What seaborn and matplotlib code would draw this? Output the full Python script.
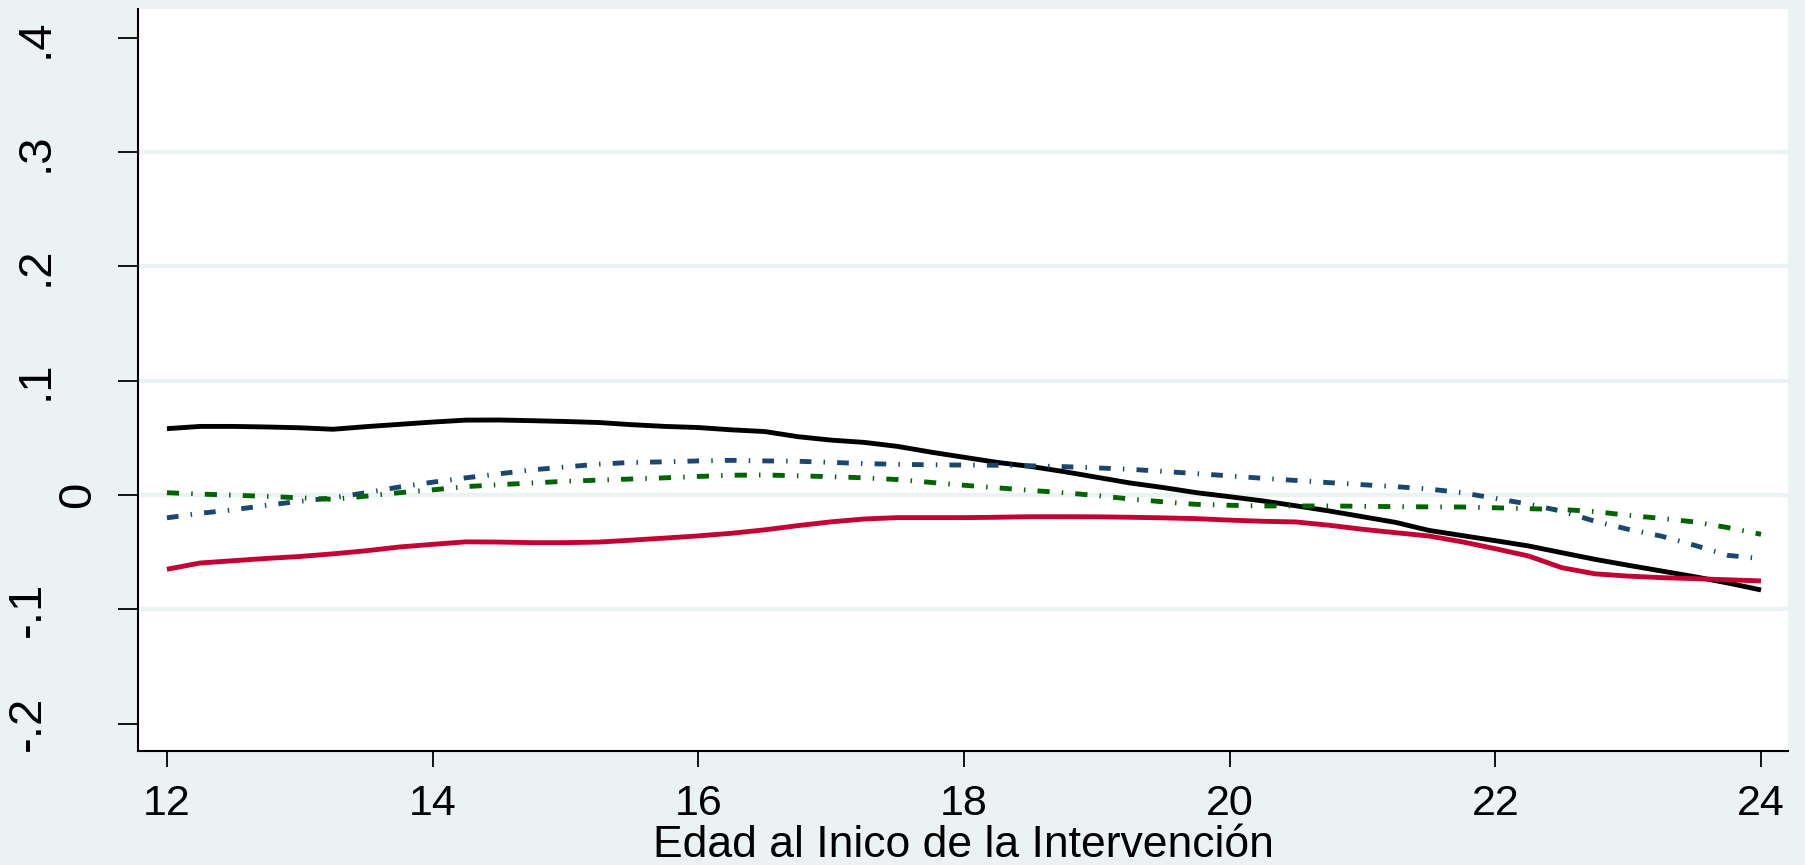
import numpy as np
import pandas as pd
import seaborn as sns
import matplotlib.pyplot as plt
import matplotlib.transforms as mtransforms

# edades (eje x)
edad = np.arange(12, 24.01, 0.25)

serie_negra = [0.058, 0.060, 0.060, 0.0595, 0.0588, 0.0575, 0.0598, 0.0618, 0.0638, 0.0655,
               0.0656, 0.0650, 0.0643, 0.0634, 0.0615, 0.0600, 0.0590, 0.0570, 0.0555, 0.0510,
               0.0480, 0.0460, 0.0425, 0.0375, 0.0330, 0.0285, 0.0250, 0.0205, 0.0155, 0.0105,
               0.0065, 0.0020, -0.0015, -0.0052, -0.0095, -0.0140, -0.0190, -0.0240, -0.0310, -0.0355,
               -0.0400, -0.0446, -0.0505, -0.0563, -0.0615, -0.0665, -0.0715, -0.0770, -0.0831]

serie_roja = [-0.065, -0.0595, -0.0575, -0.0555, -0.0538, -0.0515, -0.0488, -0.0455, -0.0432, -0.0410,
              -0.0412, -0.0417, -0.0417, -0.0412, -0.0395, -0.0377, -0.0358, -0.0335, -0.0305, -0.0268,
              -0.0235, -0.0210, -0.0198, -0.0198, -0.0198, -0.0195, -0.0190, -0.0190, -0.0191, -0.0195,
              -0.0200, -0.0207, -0.0220, -0.0230, -0.0236, -0.0265, -0.0300, -0.0330, -0.0359, -0.0410,
              -0.0470, -0.0534, -0.0636, -0.0690, -0.0710, -0.0723, -0.0732, -0.0742, -0.0752]

serie_azul = [-0.020, -0.0160, -0.0130, -0.0090, -0.0055, -0.0025, 0.0020, 0.0070, 0.0112, 0.0150,
              0.0185, 0.0220, 0.0245, 0.0270, 0.0285, 0.0290, 0.0298, 0.0303, 0.0298, 0.0295,
              0.0285, 0.0275, 0.0268, 0.0264, 0.0262, 0.0260, 0.0255, 0.0248, 0.0237, 0.0225,
              0.0206, 0.0187, 0.0167, 0.0146, 0.0127, 0.0108, 0.0090, 0.0073, 0.0052, 0.0020,
              -0.0030, -0.0080, -0.0142, -0.0230, -0.0300, -0.0360, -0.0440, -0.0528, -0.0557]

serie_verde = [0.0020, 0.0008, -0.0002, -0.0012, -0.0025, -0.0038, -0.0010, 0.0020, 0.0045, 0.0073,
               0.0090, 0.0105, 0.0120, 0.0130, 0.0140, 0.0150, 0.0162, 0.0173, 0.0175, 0.0168,
               0.0160, 0.0150, 0.0135, 0.0110, 0.0085, 0.0063, 0.0040, 0.0020, -0.0005, -0.0035,
               -0.0060, -0.0082, -0.0090, -0.0096, -0.0096, -0.0096, -0.0099, -0.0102, -0.0104, -0.0105,
               -0.0112, -0.0120, -0.0127, -0.0145, -0.0178, -0.0205, -0.0236, -0.0285, -0.0344]

xticks = [12, 14, 16, 18, 20, 22, 24]
yticks = [-0.2, -0.1, 0, 0.1, 0.2, 0.3, 0.4]
ytick_labels = ['-.2', '-.1', '0', '.1', '.2', '.3', '.4']
grid_y = [-0.1, 0, 0.1, 0.2, 0.3]

bg = '#EAF2F3'

series = {'negra': serie_negra, 'roja': serie_roja, 'azul': serie_azul, 'verde': serie_verde}
df = pd.concat([pd.DataFrame({'edad': edad, 'valor': v, 'serie': k}) for k, v in series.items()])

sns.set_theme(style='white')
plt.rcParams['font.family'] = ['Liberation Sans', 'DejaVu Sans']

fig = plt.figure(figsize=(18.06, 8.65), dpi=100, facecolor=bg)
ax = fig.add_axes([138/1806, 114/865, 1650/1806, 742/865])
ax.set_facecolor('white')

for g in grid_y:
    ax.axhline(g, color=bg, lw=3, zorder=0)

paleta = {'negra': 'black', 'roja': '#C40233', 'azul': '#1A476F', 'verde': '#006400'}
dashes = {'negra': '', 'roja': '', 'azul': (2.4, 2.5, 0.3, 2.5), 'verde': (2.5, 2.5, 0.3, 2.5)}
sns.lineplot(data=df, x='edad', y='valor', hue='serie', style='serie', palette=paleta,
             dashes=dashes, linewidth=3.5, legend=False, ax=ax)
for ln in ax.lines:
    ln.set_dash_capstyle('butt')
    ln.set_solid_capstyle('butt')

ax.set_xlim(11.782, 24.203)
ax.set_ylim(-0.224, 0.4252)

for s in ['top', 'right']:
    ax.spines[s].set_visible(False)
for s in ['left', 'bottom']:
    ax.spines[s].set_color('black')
    ax.spines[s].set_linewidth(1.5)

ax.set_xticks(xticks)
ax.set_xticklabels([str(t) for t in xticks], fontsize=31)
ax.tick_params(axis='x', length=11.5, width=1.3, color='black', pad=12, labelcolor='black', bottom=True)
ax.set_yticks(yticks)
ax.set_yticklabels([])
ax.tick_params(axis='y', length=14.4, width=1.3, color='black', left=True)

# etiquetas verticales del eje y, al estilo Stata
trans = mtransforms.blended_transform_factory(fig.transFigure, ax.transData)
right_px = {'-.2': 50, '-.1': 50, '0': 100, '.1': 58, '.2': 58, '.3': 58, '.4': 58}
for t, lab in zip(yticks, ytick_labels):
    ax.text(right_px[lab] / 1806, t, lab, transform=trans, rotation=90, ha='right', va='center',
            fontsize=34, color='black', clip_on=False)

ax.set_xlabel('Edad al Inico de la Intervención', fontsize=32, color='black', labelpad=1)
ax.set_ylabel('')

fig.savefig('out.png', dpi=100, facecolor=bg)
